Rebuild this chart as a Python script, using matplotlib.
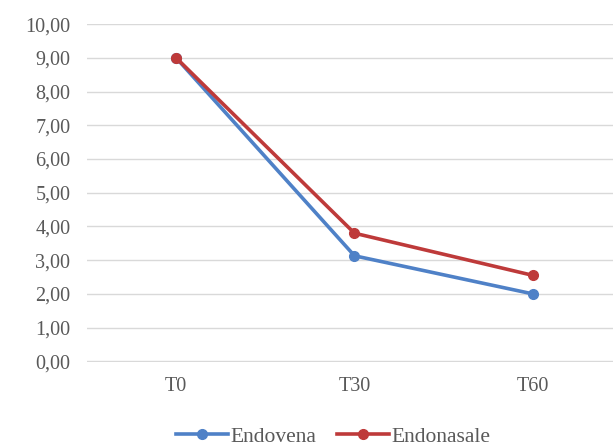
import matplotlib.pyplot as plt
from matplotlib.ticker import FuncFormatter

categories = ['T0', 'T30', 'T60']
endovena = [9.0, 3.13, 2.0]
endonasale = [9.0, 3.8, 2.55]

plt.rcParams['font.family'] = ['Liberation Serif', 'DejaVu Serif']
text_color = '#595959'

fig = plt.figure(figsize=(6.13, 4.48), dpi=100)
ax = fig.add_axes([0.142, 0.192, 0.858, 0.754])

x = range(len(categories))
ax.plot(x, endovena, color='#4F81C7', linewidth=2.6, marker='o', markersize=7,
        label='Endovena', zorder=3)
ax.plot(x, endonasale, color='#BE3A3A', linewidth=2.6, marker='o', markersize=7,
        label='Endonasale', zorder=4)

ax.set_ylim(-0.02, 10)
ax.set_yticks(range(0, 11))
ax.yaxis.set_major_formatter(FuncFormatter(lambda v, p: f'{v:.2f}'.replace('.', ',')))
ax.set_xlim(-0.5, 2.45)
ax.set_xticks(list(x))
ax.set_xticklabels(categories)

ax.grid(axis='y', color='#D9D9D9', linewidth=1)
ax.set_axisbelow(True)
for s in ax.spines.values():
    s.set_visible(False)
ax.tick_params(length=0, labelsize=14.5, colors=text_color)
ax.tick_params(axis='y', pad=12)
ax.tick_params(axis='x', pad=11)

ax.legend(loc='upper center', bbox_to_anchor=(0.468, -0.135), ncol=2, frameon=False,
          fontsize=15.5, labelcolor=text_color, handlelength=2.4, handletextpad=0.1,
          columnspacing=1.0)

plt.savefig('out.png', dpi=100)
